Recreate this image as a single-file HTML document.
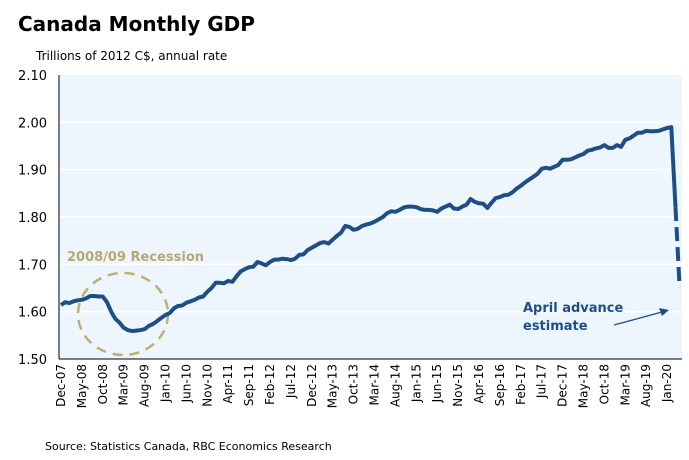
<!DOCTYPE html>
<html><head><meta charset="utf-8"><style>
body{margin:0;background:#fff;}
svg{display:block;font-family:"DejaVu Sans","Liberation Sans",sans-serif;}
</style></head><body>
<svg id="chart" width="689" height="460">
<text x="18" y="31" font-size="20" font-weight="bold" fill="#000">Canada Monthly GDP</text>
<text x="36" y="60" font-size="12" fill="#000">Trillions of 2012 C$, annual rate</text>
<rect x="59" y="75" width="623" height="284" fill="#eef6fd"/>
<g id="grid"></g>
<g id="yticks"></g>
<g id="xticks"></g>
<line x1="59" y1="75" x2="59" y2="359" stroke="#000" stroke-width="1"/>
<line x1="59" y1="359" x2="682" y2="359" stroke="#000" stroke-width="1"/>
<ellipse cx="123" cy="314" rx="45" ry="41" fill="none" stroke="#bfae7a" stroke-width="2.5" stroke-dasharray="10,7"/>
<text x="67" y="261" font-size="13" font-weight="bold" fill="#b8a773">2008/09 Recession</text>
<g id="series"></g>
<text x="523" y="312" font-size="13" font-weight="bold" fill="#1f4e87">April advance</text>
<text x="523" y="330" font-size="13" font-weight="bold" fill="#1f4e87">estimate</text>
<line x1="614" y1="325" x2="662" y2="312" stroke="#1f4e87" stroke-width="1.3"/>
<polygon points="669,310 659,308 662,316" fill="#1f4e87"/>
<text x="45" y="450" font-size="11" fill="#000">Source: Statistics Canada, RBC Economics Research</text>
</svg>
<script>
const yTicks=[1.50,1.60,1.70,1.80,1.90,2.00,2.10];
const startYear=2007, startMonth=11; // Dec-07
const monthNames=["Jan","Feb","Mar","Apr","May","Jun","Jul","Aug","Sep","Oct","Nov","Dec"];
const gdp=[1.614,
1.620,1.618,1.622,1.624,1.625,1.628,1.633,1.633,1.632,1.632,1.620,1.600,
1.585,1.577,1.566,1.561,1.559,1.560,1.561,1.563,1.570,1.574,1.580,1.587,
1.593,1.597,1.607,1.612,1.613,1.619,1.622,1.625,1.630,1.632,1.642,1.650,
1.661,1.661,1.660,1.665,1.663,1.675,1.685,1.690,1.694,1.695,1.705,1.702,
1.698,1.705,1.710,1.710,1.712,1.711,1.709,1.712,1.720,1.721,1.730,1.735,
1.740,1.745,1.747,1.744,1.752,1.760,1.767,1.781,1.779,1.773,1.775,1.781,
1.784,1.786,1.790,1.795,1.800,1.808,1.812,1.811,1.815,1.820,1.822,1.822,
1.821,1.817,1.815,1.815,1.814,1.811,1.818,1.822,1.826,1.818,1.817,1.822,
1.826,1.838,1.832,1.829,1.828,1.819,1.830,1.840,1.842,1.846,1.847,1.852,
1.860,1.866,1.873,1.879,1.885,1.891,1.902,1.904,1.902,1.906,1.910,1.921,
1.921,1.922,1.926,1.930,1.933,1.940,1.942,1.945,1.947,1.952,1.946,1.946,
1.952,1.948,1.963,1.966,1.972,1.978,1.978,1.982,1.981,1.981,1.982,1.985,
1.988,1.990,1.821,1.652];
const estimateCount=1; // last point is advance estimate (dashed)
const ns="http://www.w3.org/2000/svg";
const x0=61, dx=4.18, yBot=359, yTop=75, vMin=1.5, vMax=2.1;
function xs(i){return x0+i*dx;}
function ys(v){return yBot-(v-vMin)/(vMax-vMin)*(yBot-yTop);}
function mk(tag,attrs,parent){const e=document.createElementNS(ns,tag);for(const k in attrs)e.setAttribute(k,attrs[k]);parent.appendChild(e);return e;}
const grid=document.getElementById('grid'),yt=document.getElementById('yticks'),xt=document.getElementById('xticks'),ser=document.getElementById('series');
yTicks.forEach(v=>{
  if(v>vMin&&v<vMax){const g=mk('line',{x1:59,x2:682,y1:ys(v),y2:ys(v),stroke:'#ffffff','stroke-width':1.5},grid);
  
  }
  const t=mk('text',{x:47,y:ys(v)+5,'text-anchor':'end','font-size':13,fill:'#000'},yt);
  t.textContent=v.toFixed(2);
  
  
});
for(let i=0;i<gdp.length;i+=5){
  const m=(startMonth+i)%12, yr=startYear+Math.floor((startMonth+i)/12);
  const lab=monthNames[m]+'-'+String(yr%100).padStart(2,'0');
  const x=xs(i)+4;
  const t=mk('text',{x:x,y:364,'text-anchor':'end','font-size':12,fill:'#000',transform:'rotate(-90 '+x+' 364)'},xt);
  t.textContent=lab;
  
  
}
const nSolid=gdp.length-estimateCount;
let d='';for(let i=0;i<nSolid;i++)d+=(i?'L':'M')+xs(i).toFixed(1)+','+ys(gdp[i]).toFixed(1);
const line=mk('path',{d:d,fill:'none',stroke:'#1f4e87','stroke-width':4,'stroke-linejoin':'round'},ser);


let d2='M'+xs(nSolid-1).toFixed(1)+','+ys(gdp[nSolid-1]).toFixed(1);
for(let i=nSolid;i<gdp.length;i++)d2+='L'+xs(i).toFixed(1)+','+ys(gdp[i]).toFixed(1);
const est=mk('path',{d:d2,fill:'none',stroke:'#1f4e87','stroke-width':4,'stroke-dasharray':'14,6'},ser);


</script>
</body></html>
